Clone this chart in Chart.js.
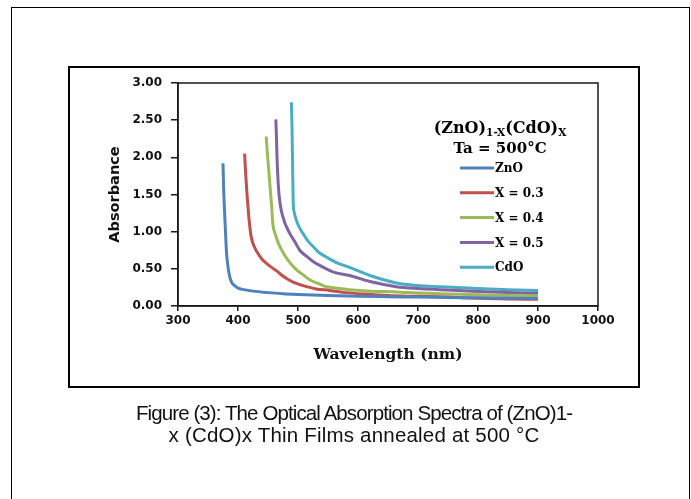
<!DOCTYPE html>
<html><head><meta charset="utf-8">
<script src="https://cdn.jsdelivr.net/npm/chart.js@4.4.1/dist/chart.umd.min.js"></script>
<style>
html,body{margin:0;padding:0;background:#fff;width:691px;height:499px;overflow:hidden;position:relative}
#frame{position:absolute;left:11px;top:7px;width:677px;height:560px;border:1px solid #000;}
#box{position:absolute;left:68px;top:66px;width:568px;height:318px;border:2px solid #000;}
#cv{position:absolute;left:0;top:0}
.cap{position:absolute;left:40px;width:628px;text-align:center;font-family:"Liberation Sans",Arial,sans-serif;font-size:20.5px;line-height:22px;color:#111;white-space:nowrap}
#cap1{top:402px;letter-spacing:-0.9px}
#cap2{top:424px;letter-spacing:0.2px}
</style></head><body>
<div id="frame"></div><div id="box"></div>
<canvas id="cv" width="691" height="499"></canvas>
<div class="cap" id="cap1">Figure (3): The Optical Absorption Spectra of (ZnO)1-</div>
<div class="cap" id="cap2">x (CdO)x Thin Films annealed at 500 °C</div>
<script>
// ---- data ----
const seriesLabels = ['ZnO', 'X = 0.3', 'X = 0.4', 'X = 0.5', 'CdO'];
const seriesColors = ['#4F81BD', '#C0504D', '#9BBB59', '#8064A2', '#4BACC6'];

const wlZnO = [375, 376, 378, 380, 381, 383, 385, 387, 390, 395, 400, 410, 425, 450, 475, 500, 550, 600, 650, 700, 750, 800, 850, 900];
const absZnO = [1.92, 1.60, 1.20, 0.85, 0.70, 0.55, 0.44, 0.37, 0.31, 0.27, 0.24, 0.22, 0.20, 0.18, 0.165, 0.155, 0.14, 0.13, 0.125, 0.12, 0.115, 0.11, 0.105, 0.10];

const wlX03 = [411, 413, 416, 419, 422, 427, 433, 440, 448, 456, 465, 472, 483, 495, 510, 530, 553, 580, 610, 650, 700, 750, 800, 850, 900];
const absX03 = [2.05, 1.75, 1.40, 1.12, 0.93, 0.80, 0.71, 0.63, 0.57, 0.52, 0.47, 0.42, 0.36, 0.31, 0.27, 0.23, 0.21, 0.18, 0.16, 0.14, 0.13, 0.12, 0.105, 0.095, 0.09];

const wlX04 = [447, 449, 451, 453, 456, 458, 462, 467, 475, 483, 492, 500, 510, 520, 535, 547, 565, 586, 620, 664, 700, 736, 800, 850, 900];
const absX04 = [2.28, 2.05, 1.85, 1.65, 1.35, 1.11, 0.97, 0.85, 0.72, 0.62, 0.53, 0.47, 0.41, 0.35, 0.30, 0.26, 0.24, 0.22, 0.20, 0.19, 0.175, 0.165, 0.15, 0.14, 0.135];

const wlX05 = [463, 464, 465, 467, 469, 472, 478, 486, 495, 503, 514, 525, 540, 558, 586, 620, 664, 700, 736, 800, 850, 900];
const absX05 = [2.51, 2.30, 2.00, 1.65, 1.45, 1.29, 1.12, 0.98, 0.86, 0.75, 0.67, 0.60, 0.53, 0.46, 0.41, 0.33, 0.26, 0.235, 0.22, 0.195, 0.18, 0.17];

const wlCdO = [489, 490, 491, 492, 494, 497, 502, 508, 516, 525, 535, 547, 565, 586, 620, 664, 700, 736, 800, 850, 900];
const absCdO = [2.74, 2.40, 1.90, 1.40, 1.25, 1.16, 1.06, 0.98, 0.88, 0.80, 0.72, 0.66, 0.58, 0.52, 0.41, 0.31, 0.275, 0.26, 0.235, 0.22, 0.21];

const xTicks = [300, 400, 500, 600, 700, 800, 900, 1000];
const yTicks = [0, 0.5, 1.0, 1.5, 2.0, 2.5, 3.0];
const legendTitleParts = ['(ZnO)', '1-X', '(CdO)', 'X'];
const legendSubtitle = 'Ta = 500°C';
const xTitle = 'Wavelength (nm)';
const yTitle = 'Absorbance';

// ---- build ----
const wls = [wlZnO, wlX03, wlX04, wlX05, wlCdO];
const abss = [absZnO, absX03, absX04, absX05, absCdO];
const datasets = seriesLabels.map((lab, i) => ({
  label: lab,
  data: wls[i].map((w, j) => ({x: w, y: abss[i][j]})),
  borderColor: seriesColors[i],
  backgroundColor: seriesColors[i],
  borderWidth: 3,
  pointRadius: 0,
  fill: false,
  cubicInterpolationMode: 'monotone'
}));

const AXIS = '#1a1a1a';
const plotBorder = {
  id: 'plotBorder',
  afterDatasetsDraw(chart) {
    const a = chart.chartArea, ctx = chart.ctx;
    ctx.save();
    ctx.strokeStyle = AXIS; ctx.lineWidth = 1.5;
    ctx.strokeRect(a.left, a.top, a.right - a.left, a.bottom - a.top);
    ctx.restore();
  }
};

const customLegend = {
  id: 'customLegend',
  afterDraw(chart) {
    const ctx = chart.ctx;
    ctx.save();
    ctx.fillStyle = '#000';
    ctx.textBaseline = 'middle';
    const cx = 500;
    const big = 'bold 16px "DejaVu Serif"', small = 'bold 10.5px "DejaVu Serif"';
    const fonts = [big, small, big, small];
    const dy = [0, 4, 0, 4];
    let w = 0;
    legendTitleParts.forEach((p, k) => { ctx.font = fonts[k]; w += ctx.measureText(p).width; });
    let x = cx - w / 2;
    ctx.textAlign = 'left';
    legendTitleParts.forEach((p, k) => { ctx.font = fonts[k]; ctx.fillText(p, x, 129 + dy[k]); x += ctx.measureText(p).width; });
    ctx.font = 'bold 15px "DejaVu Serif"'; ctx.textAlign = 'center';
    ctx.fillText(legendSubtitle, cx, 149);
    chart.data.datasets.forEach((ds, i) => {
      const y = 168 + i * 24.8;
      ctx.strokeStyle = ds.borderColor; ctx.lineWidth = 3;
      ctx.beginPath(); ctx.moveTo(460, y); ctx.lineTo(494, y); ctx.stroke();
      ctx.font = 'bold 12px "DejaVu Serif"'; ctx.textAlign = 'left'; ctx.fillStyle = '#000';
      ctx.fillText(ds.label, 495, y + 1);
    });
    ctx.restore();
  }
};

new Chart(document.getElementById('cv'), {
  type: 'line',
  data: { datasets },
  options: {
    responsive: false,
    devicePixelRatio: 1,
    animation: false,
    layout: { padding: { left: 103, top: 83, right: 93, bottom: 131 } },
    plugins: { legend: { display: false }, tooltip: { enabled: false } },
    scales: {
      x: {
        type: 'linear', min: 300, max: 1000,
        afterBuildTicks: s => { s.ticks = xTicks.map(v => ({value: v})); },
        afterFit: s => { s.height = 62; },
        grid: { drawOnChartArea: false, tickLength: 5, color: AXIS, lineWidth: 1.5 },
        border: { color: AXIS, width: 1.5 },
        ticks: { color: '#111', font: { family: 'DejaVu Sans', weight: 'bold', size: 12 }, padding: 3, maxRotation: 0, callback: v => String(v) },
        title: { display: true, text: xTitle, color: '#111', font: { family: 'DejaVu Serif', weight: 'bold', size: 15.5 } }
      },
      y: {
        type: 'linear', min: 0, max: 3,
        afterBuildTicks: s => { s.ticks = yTicks.map(v => ({value: v})); },
        afterFit: s => { s.width = 75; },
        grid: { drawOnChartArea: false, tickLength: 7, color: AXIS, lineWidth: 1.5 },
        border: { color: AXIS, width: 1.5 },
        ticks: { color: '#111', font: { family: 'DejaVu Sans', weight: 'bold', size: 12 }, padding: 9, callback: v => Number(v).toFixed(2) },
        title: { display: true, text: yTitle, color: '#111', font: { family: 'DejaVu Sans', weight: 'bold', size: 14.5 } }
      }
    }
  },
  plugins: [plotBorder, customLegend]
});
</script>
</body></html>
